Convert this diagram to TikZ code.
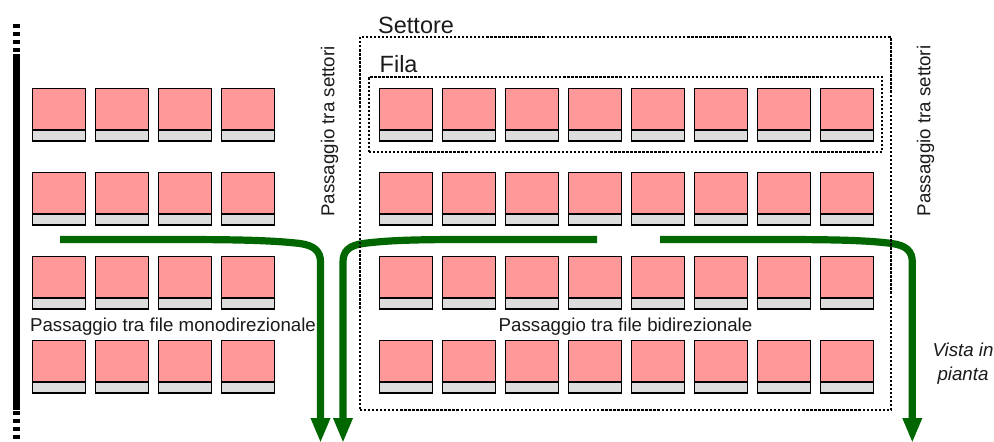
\documentclass[tikz,border=0pt]{standalone}
\usepackage{fontspec}
\setmainfont{Liberation Sans}
\usetikzlibrary{arrows.meta}
\definecolor{seatpink}{HTML}{FF9999}
\definecolor{seatgrey}{HTML}{DDDDDD}
\definecolor{aislegreen}{HTML}{006600}
\definecolor{inkdark}{HTML}{1A1A1A}
\tikzset{
  seatback/.style={draw=black,fill=seatpink,line width=1.4pt,minimum width=53pt,minimum height=41.5pt,inner sep=0pt,outer sep=0pt,anchor=north west},
  seatbase/.style={draw=black,fill=seatgrey,line width=1.4pt,minimum width=53pt,minimum height=11pt,inner sep=0pt,outer sep=0pt,anchor=north west},
  aisle/.style={draw=aislegreen,line width=7.2pt,-{Triangle[width=18pt,length=25pt]}},
  zone/.style={draw=black,line width=2.5pt,dash pattern=on 2.3pt off 1.72pt,inner sep=0pt,outer sep=0pt,anchor=north west},
  lab/.style={text=inkdark,font=\fontsize{18.7}{22}\selectfont,inner sep=0pt},
  biglab/.style={text=inkdark,font=\fontsize{23.5}{28}\selectfont,inner sep=0pt,anchor=base west},
  wallpart/.style={fill=black,draw=none}
}
\begin{document}
\begin{tikzpicture}[x=1pt,y=-1pt]
\useasboundingbox (0,0) rectangle (994,442);
% wall
\fill[wallpart] (12.5,54) rectangle (20,410);
\foreach \y in {23,31,39,47}{\fill[wallpart] (12.5,\y+1) rectangle (20,\y+4.5);}
\foreach \y in {411,419,427,435}{\fill[wallpart] (12.5,\y) rectangle (20,\y+3.5);}
% seats
\foreach \r/\ty in {1/88.5,2/172.5,3/256.5,4/340.5}{
  \foreach \c in {0,...,3}{
    \node[seatback] (L\r\c) at ({32.5+63*\c},\ty) {};
    \node[seatbase] (LB\r\c) at (L\r\c.south west) {};
  }
  \foreach \c in {0,...,7}{
    \node[seatback] (R\r\c) at ({379.5+63*\c},\ty) {};
    \node[seatbase] (RB\r\c) at (R\r\c.south west) {};
  }
}
% aisles
\coordinate (a1s) at (60,239.5);
\coordinate (a1e) at (320.5,443);
\coordinate (a2s) at (597,239.5);
\coordinate (a2e) at (343,443);
\coordinate (a3s) at (660,239.5);
\coordinate (a3e) at (912.3,443);
\draw[aisle] (a1s) -- (170,239.5) .. controls (230,239.5) and (270,240) .. (300,243.5) .. controls (314,245.5) and (320.5,251) .. (320.5,262) -- (a1e);
\draw[aisle] (a2s) -- (470,239.5) .. controls (420,239.5) and (390,240) .. (363,243.5) .. controls (349,245.5) and (343,251) .. (343,262) -- (a2e);
\draw[aisle] (a3s) -- (770,239.5) .. controls (830,239.5) and (865,240) .. (892,243.5) .. controls (906,245.5) and (912.3,251) .. (912.3,262) -- (a3e);
% zones
\node[zone,minimum width=531pt,minimum height=373pt] (settore) at (360,37) {};
\node[zone,minimum width=513pt,minimum height=75pt] (fila) at (369,77) {};
% labels
\node[biglab] (tsettore) at (378,33) {Settore};
\node[biglab] (tfila) at (379.5,72) {Fila};
\node[lab,rotate=90] (tp1) at (329.5,131.5) {Passaggio tra settori};
\node[lab,rotate=90] (tp2) at (925.5,131) {Passaggio tra settori};
\node[lab] (tmono) at (173,326.5) {Passaggio tra file monodirezionale};
\node[lab] (tbi) at (625.5,326.5) {Passaggio tra file bidirezionale};
\node[lab,font=\fontsize{18.7}{24}\selectfont\itshape,align=center] (tvista) at (963,364) {Vista in\\pianta};
\end{tikzpicture}
\end{document}
